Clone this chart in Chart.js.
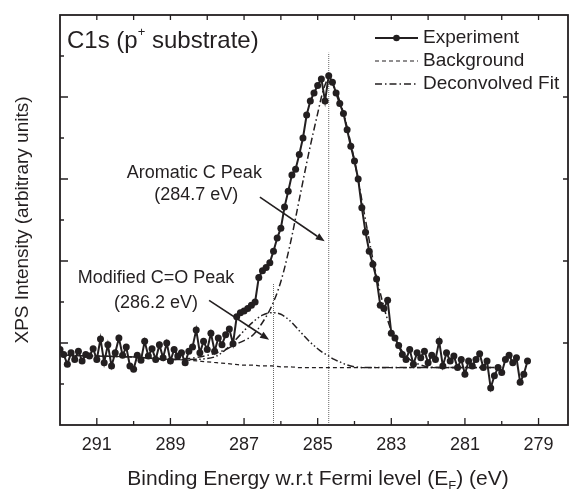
<!DOCTYPE html>
<html>
<head>
<meta charset="utf-8">
<script src="https://cdn.jsdelivr.net/npm/chart.js@4.4.1/dist/chart.umd.min.js"></script>
<style>
  html, body { margin: 0; padding: 0; background: #fff; }
  canvas { display: block; }
</style>
</head>
<body>
<canvas id="xps" width="572" height="489"></canvas>
<script>
const INK = '#231f20';
const FONT = '"Liberation Sans", Arial, Helvetica, sans-serif';

// measured C1s spectrum, 0.1 eV steps starting at 292.0 eV going down
const expStart = 292.0;
const expStep = 0.1;
const expCounts = [
  0.92, 0.86, 0.74, 0.88, 0.80, 0.90, 0.78, 0.86, 0.84, 0.93,
  0.80, 1.05, 0.76, 0.98, 0.72, 0.88, 1.06, 0.85, 0.95, 0.72,
  0.68, 0.85, 0.79, 1.02, 0.84, 0.93, 0.80, 0.98, 0.82, 1.00,
  0.78, 0.92, 0.84, 0.88, 0.76, 0.90,
  0.95, 1.16, 0.88, 1.02, 0.92, 1.12, 0.90, 1.06, 0.98, 1.10,
  1.17, 0.99, 1.32, 1.37, 1.39, 1.42, 1.46, 1.50,
  1.80, 1.88, 1.92, 1.98, 2.12, 2.28, 2.40, 2.66, 2.85, 3.05,
  3.12, 3.30, 3.50, 3.78, 3.95, 4.05, 4.14, 4.22, 3.95, 4.26,
  4.18, 4.05, 3.92, 3.80, 3.60, 3.40, 3.22, 3.00, 2.65, 2.35,
  2.12, 1.96, 1.78, 1.46, 1.42, 1.52, 1.12, 1.06, 0.97, 0.86,
  0.80, 0.92, 0.74, 0.88, 0.82, 0.90, 0.76, 0.85, 0.80, 1.02,
  0.72, 0.88, 0.78, 0.84, 0.70, 0.80, 0.62, 0.78, 0.72, 0.80,
  0.87, 0.70, 0.78, 0.45, 0.60, 0.70, 0.64, 0.80, 0.85, 0.76,
  0.82, 0.52, 0.62, 0.78
];

const fitEnergy = [
  291.8, 291, 290, 289, 288.5, 288, 287.75, 287.5, 287.25, 287,
  286.75, 286.5, 286.25, 286, 285.75, 285.5, 285.25, 285, 284.85, 284.7,
  284.55, 284.4, 284.25, 284, 283.75, 283.5, 283.25, 283, 282.75, 282.5,
  282.25, 282, 281.5, 281, 280.5, 280.2
];
const background = [
  0.85, 0.84, 0.83, 0.80, 0.79, 0.77, 0.76, 0.75, 0.74, 0.73,
  0.73, 0.72, 0.72, 0.71, 0.71, 0.70, 0.70, 0.70, 0.70, 0.70,
  0.70, 0.70, 0.70, 0.70, 0.70, 0.70, 0.70, 0.70, 0.70, 0.70,
  0.70, 0.70, 0.70, 0.70, 0.70, 0.70
];
const aromaticFit = [
  0.85, 0.84, 0.83, 0.80, 0.81, 0.85, 0.88, 0.92, 0.98, 1.03,
  1.10, 1.25, 1.45, 1.75, 2.20, 2.75, 3.30, 3.80, 4.08, 4.22,
  4.12, 3.95, 3.72, 3.22, 2.62, 2.02, 1.52, 1.15, 0.93, 0.80,
  0.74, 0.71, 0.70, 0.70, 0.70, 0.70
];
const carbonylFit = [
  0.85, 0.84, 0.83, 0.80, 0.80, 0.81, 0.84, 0.92, 1.03, 1.15,
  1.26, 1.34, 1.37, 1.35, 1.27, 1.15, 1.03, 0.93, 0.88, 0.84,
  0.80, 0.77, 0.74, 0.71, 0.70, 0.70, 0.70, 0.70, 0.70, 0.70,
  0.70, 0.70, 0.70, 0.70, 0.70, 0.70
];

const xTicks = [291, 289, 287, 285, 283, 281, 279];
const peakLines = [284.7, 286.2];
const peakLineTops = [4.54, 1.73];

const expPoints = expCounts.map((v, i) => ({ x: +(expStart - i * expStep).toFixed(2), y: v }));
const pairUp = (vals) => vals.map((v, i) => ({ x: fitEnergy[i], y: v }));

// annotation text in data coordinates
const notes = [
  { text: 'Aromatic C Peak', e: 288.35, v: 3.07 },
  { text: '(284.7 eV)', e: 288.3, v: 2.80 },
  { text: 'Modified C=O Peak', e: 289.39, v: 1.79 },
  { text: '(286.2 eV)', e: 289.39, v: 1.49 }
];
const arrows = [
  { from: [286.57, 2.78], to: [284.81, 2.24] },
  { from: [287.95, 1.52], to: [286.32, 1.04] }
];

const DASHDOT = [7, 3, 1.5, 3];
const DASHDOTDOT = [7, 2.5, 1.5, 2.5, 1.5, 2.5];

function drawRuns(ctx, runs, x, y, align) {
  // runs: [text, size, yShift]
  let total = 0;
  runs.forEach(r => { ctx.font = r[1] + 'px ' + FONT; total += ctx.measureText(r[0]).width; });
  let cx = align === 'center' ? x - total / 2 : x;
  ctx.textAlign = 'left';
  runs.forEach(r => {
    ctx.font = r[1] + 'px ' + FONT;
    ctx.fillText(r[0], cx, y + r[2]);
    cx += ctx.measureText(r[0]).width;
  });
}

const decorations = {
  id: 'decorations',
  afterDatasetsDraw(chart) {
    const { ctx, chartArea: a, scales: { x, y } } = chart;
    ctx.save();
    ctx.strokeStyle = INK;
    ctx.fillStyle = INK;

    // frame + inward ticks
    ctx.lineWidth = 1.8;
    ctx.strokeRect(a.left, a.top, a.right - a.left, a.bottom - a.top);
    ctx.lineWidth = 1.3;
    ctx.beginPath();
    for (let e = 279; e <= 291; e++) {
      const px = x.getPixelForValue(e);
      ctx.moveTo(px, a.bottom);
      ctx.lineTo(px, a.bottom - (e % 2 === 1 ? 7 : 4));
      ctx.moveTo(px, a.top);
      ctx.lineTo(px, a.top + 5);
    }
    for (let v = 0.5; v < 5; v += 0.5) {
      const py = y.getPixelForValue(v);
      const major = Number.isInteger(v);
      ctx.moveTo(a.left, py);
      ctx.lineTo(a.left + (major ? 8 : 4), py);
      if (major) {
        ctx.moveTo(a.right, py);
        ctx.lineTo(a.right - 5, py);
      }
    }
    ctx.stroke();

    // x title with subscript F
    ctx.textBaseline = 'alphabetic';
    drawRuns(ctx, [
      ['Binding Energy w.r.t Fermi level (E', 21, 0],
      ['F', 13, 5],
      [') (eV)', 21, 0]
    ], (a.left + a.right) / 2 + 4, 485, 'center');

    // panel label
    drawRuns(ctx, [
      ['C1s (p', 24, 0],
      ['+', 13, -12],
      [' substrate)', 24, 0]
    ], a.left + 7, 48, 'left');

    // peak labels
    ctx.textBaseline = 'middle';
    notes.forEach(n => {
      drawRuns(ctx, [[n.text, 18, 0]], x.getPixelForValue(n.e), y.getPixelForValue(n.v), 'center');
    });

    ctx.lineWidth = 1.6;
    arrows.forEach(ar => {
      const x0 = x.getPixelForValue(ar.from[0]), y0 = y.getPixelForValue(ar.from[1]);
      const x1 = x.getPixelForValue(ar.to[0]), y1 = y.getPixelForValue(ar.to[1]);
      const ang = Math.atan2(y1 - y0, x1 - x0);
      const hl = 9, hw = 3.5;
      const bx = x1 - hl * Math.cos(ang), by = y1 - hl * Math.sin(ang);
      ctx.beginPath();
      ctx.moveTo(x0, y0);
      ctx.lineTo(bx, by);
      ctx.stroke();
      ctx.beginPath();
      ctx.moveTo(x1, y1);
      ctx.lineTo(bx + hw * Math.sin(ang), by - hw * Math.cos(ang));
      ctx.lineTo(bx - hw * Math.sin(ang), by + hw * Math.cos(ang));
      ctx.closePath();
      ctx.fill();
    });

    // legend
    const rows = [
      { label: 'Experiment', dash: [], dot: true, w: 2 },
      { label: 'Background', dash: [4, 3], dot: false, w: 1.2 },
      { label: 'Deconvolved Fit', dash: DASHDOT, dot: false, w: 1.5 }
    ];
    rows.forEach((r, i) => {
      const ly = 38 + i * 23;
      ctx.setLineDash(r.dash);
      ctx.lineWidth = r.w;
      ctx.beginPath();
      ctx.moveTo(375, ly);
      ctx.lineTo(418, ly);
      ctx.stroke();
      ctx.setLineDash([]);
      if (r.dot) {
        ctx.beginPath();
        ctx.arc(396.5, ly, 3.3, 0, Math.PI * 2);
        ctx.fill();
      }
      drawRuns(ctx, [[r.label, 19, 0]], 423, ly, 'left');
    });
    ctx.restore();
  }
};

new Chart(document.getElementById('xps'), {
  type: 'line',
  data: {
    datasets: [
      {
        label: 'Experiment',
        data: expPoints,
        borderColor: INK,
        backgroundColor: INK,
        borderWidth: 2,
        pointRadius: 3.5,
        pointBorderWidth: 0,
        pointBackgroundColor: INK
      },
      {
        label: 'Aromatic C fit',
        data: pairUp(aromaticFit),
        borderColor: INK,
        borderWidth: 1.5,
        borderDash: DASHDOT,
        pointRadius: 0,
        cubicInterpolationMode: 'monotone'
      },
      {
        label: 'C=O fit',
        data: pairUp(carbonylFit),
        borderColor: INK,
        borderWidth: 1.5,
        borderDash: DASHDOTDOT,
        pointRadius: 0,
        cubicInterpolationMode: 'monotone'
      },
      {
        label: 'Background',
        data: pairUp(background),
        borderColor: INK,
        borderWidth: 1.2,
        borderDash: [4, 3],
        pointRadius: 0,
        cubicInterpolationMode: 'monotone'
      },
      ...peakLines.map((e, i) => ({
        label: 'line ' + e,
        data: [{ x: e, y: 0 }, { x: e, y: peakLineTops[i] }],
        borderColor: '#666',
        borderWidth: 1,
        borderDash: [1, 1],
        pointRadius: 0
      }))
    ]
  },
  options: {
    responsive: false,
    animation: false,
    layout: { padding: { top: 15, right: 1, left: 0, bottom: 0 } },
    plugins: { legend: { display: false }, tooltip: { enabled: false } },
    scales: {
      x: {
        type: 'linear',
        reverse: true,
        min: 278.2,
        max: 292,
        grid: { display: false, drawTicks: false },
        border: { display: false },
        ticks: {
          font: { family: FONT, size: 18 },
          color: INK,
          padding: 9,
          autoSkip: false,
          maxRotation: 0
        },
        afterBuildTicks: (scale) => { scale.ticks = xTicks.map(v => ({ value: v })); },
        afterFit: (scale) => { scale.height = 64; }
      },
      y: {
        min: 0,
        max: 5,
        grid: { display: false, drawTicks: false },
        border: { display: false },
        ticks: { display: false },
        title: {
          display: true,
          text: 'XPS Intensity (arbitrary units)',
          font: { family: FONT, size: 19 },
          color: INK,
          padding: { top: 11, bottom: 0 }
        },
        afterFit: (scale) => { scale.width = 60; }
      }
    }
  },
  plugins: [decorations]
});
</script>
</body>
</html>
